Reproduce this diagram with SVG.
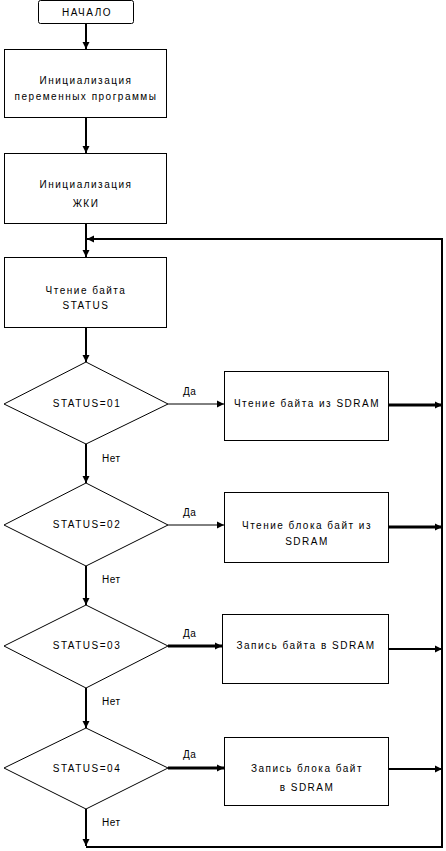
<svg xmlns="http://www.w3.org/2000/svg" width="446" height="851" viewBox="0 0 446 851">
<style>
.box{fill:#fff;stroke:#000;stroke-width:1}
.t{font-family:"Liberation Sans",Arial,sans-serif;font-size:10px;letter-spacing:1.5px;fill:#000;text-anchor:middle}
.l{font-family:"Liberation Sans",Arial,sans-serif;font-size:10px;letter-spacing:0.5px;fill:#000}
.c{fill:none;stroke:#000;stroke-width:2}
.c1{fill:none;stroke:#000;stroke-width:1}
.c3{fill:none;stroke:#000;stroke-width:3}
</style>
<defs>
<marker id="a" markerUnits="userSpaceOnUse" markerWidth="8" markerHeight="8" refX="7" refY="4" orient="auto">
<path d="M0,0.5 L7,4 L0,7.5 Z" fill="#000"/>
</marker>
</defs>
<rect width="446" height="851" fill="#fff"/>
<g id="connectors">
<line class="c" x1="86" y1="24" x2="86" y2="49" marker-end="url(#a)"/>
<line class="c" x1="86" y1="117" x2="86" y2="153" marker-end="url(#a)"/>
<line class="c" x1="86" y1="223" x2="86" y2="257" marker-end="url(#a)"/>
<line class="c" x1="86" y1="327" x2="86" y2="362" marker-end="url(#a)"/>
<line class="c" x1="86" y1="444" x2="86" y2="483" marker-end="url(#a)"/>
<line class="c" x1="86" y1="566" x2="86" y2="605" marker-end="url(#a)"/>
<line class="c" x1="86" y1="688" x2="86" y2="728" marker-end="url(#a)"/>
<line class="c" x1="86" y1="809" x2="86" y2="846" marker-end="url(#a)"/>
<polyline class="c" points="86,847 442,847 442,239 87,239" marker-end="url(#a)"/>
<line class="c1" x1="168" y1="404" x2="224" y2="404" marker-end="url(#a)"/>
<line class="c1" x1="168" y1="525" x2="224" y2="525" marker-end="url(#a)"/>
<line class="c3" x1="168" y1="646" x2="222" y2="646" marker-end="url(#a)"/>
<line class="c3" x1="168" y1="768" x2="224" y2="768" marker-end="url(#a)"/>
<line class="c3" x1="388" y1="405" x2="442" y2="405" marker-end="url(#a)"/>
<line class="c3" x1="388" y1="527" x2="442" y2="527" marker-end="url(#a)"/>
<line class="c" x1="388" y1="649" x2="442" y2="649" marker-end="url(#a)"/>
<line class="c" x1="388" y1="769" x2="442" y2="769" marker-end="url(#a)"/>
<text class="l" x="183" y="395">Да</text>
<text class="l" x="183" y="516">Да</text>
<text class="l" x="183" y="637">Да</text>
<text class="l" x="183" y="758">Да</text>
<text class="l" x="102" y="462">Нет</text>
<text class="l" x="102" y="583">Нет</text>
<text class="l" x="102" y="705">Нет</text>
<text class="l" x="102" y="826">Нет</text>
</g>
<g id="start">
<rect class="box" x="38.5" y="0.5" width="95" height="23" rx="2"/>
<text class="t" x="87" y="16">НАЧАЛО</text>
</g>
<g id="init-vars">
<rect class="box" x="4.5" y="49.5" width="162" height="68" stroke-width="2"/>
<text class="t" x="86" y="84">Инициализация</text>
<text class="t" x="86" y="100">переменных программы</text>
</g>
<g id="init-lcd">
<rect class="box" x="4.5" y="153.5" width="162" height="70"/>
<text class="t" x="86" y="188">Инициализация</text>
<text class="t" x="86" y="207">ЖКИ</text>
</g>
<g id="read-status">
<rect class="box" x="4.5" y="257.5" width="162" height="70"/>
<text class="t" x="86" y="294">Чтение байта</text>
<text class="t" x="86" y="309">STATUS</text>
</g>
<g id="dec1">
<polygon class="box" points="86,362 168,404 86,444 4,404"/>
<text class="t" x="87" y="407">STATUS=01</text>
</g>
<g id="proc1">
<rect class="box" x="224.5" y="371.5" width="164" height="69"/>
<text class="t" x="307" y="407">Чтение байта из SDRAM</text>
</g>
<g id="dec2">
<polygon class="box" points="86,483 168,525 86,566 4,525"/>
<text class="t" x="87" y="528">STATUS=02</text>
</g>
<g id="proc2">
<rect class="box" x="224.5" y="492.5" width="164" height="70"/>
<text class="t" x="307" y="529">Чтение блока байт из</text>
<text class="t" x="307" y="545">SDRAM</text>
</g>
<g id="dec3">
<polygon class="box" points="86,605 168,646 86,688 4,646"/>
<text class="t" x="87" y="649">STATUS=03</text>
</g>
<g id="proc3">
<rect class="box" x="222.5" y="614.5" width="166" height="69"/>
<text class="t" x="306" y="649">Запись байта в SDRAM</text>
</g>
<g id="dec4">
<polygon class="box" points="86,728 168,768 86,809 4,768"/>
<text class="t" x="87" y="772">STATUS=04</text>
</g>
<g id="proc4">
<rect class="box" x="224.5" y="737.5" width="164" height="68"/>
<text class="t" x="307" y="772">Запись блока байт</text>
<text class="t" x="307" y="791">в SDRAM</text>
</g>
</svg>
